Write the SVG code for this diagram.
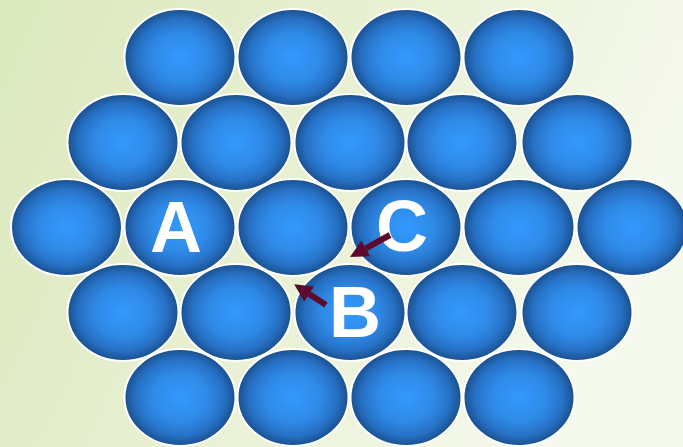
<svg xmlns="http://www.w3.org/2000/svg" width="683" height="447" viewBox="0 0 683 447">
<defs>
<linearGradient id="bg" x1="0" y1="0" x2="1" y2="0.3">
<stop offset="0" stop-color="#dbe8bc"/>
<stop offset="0.5" stop-color="#e8f0d2"/>
<stop offset="1" stop-color="#f6f9ee"/>
</linearGradient>
<radialGradient id="ball" cx="0.5" cy="0.5" r="0.5">
<stop offset="0" stop-color="#3399ff"/>
<stop offset="0.5" stop-color="#2f8ae6"/>
<stop offset="0.8" stop-color="#2670c4"/>
<stop offset="1" stop-color="#1a4f8c"/>
</radialGradient>
<marker id="head" markerUnits="userSpaceOnUse" markerWidth="19" markerHeight="20" refX="0" refY="9" orient="auto">
<path d="M0,0 L18,9 L0,18 z" fill="#5e0a2e"/>
</marker>
<style>
.b{fill:url(#ball);stroke:#ffffff;stroke-width:2}
.lbl{font-family:"Liberation Sans",Arial,sans-serif;font-weight:bold;font-size:72px;fill:#ffffff;text-anchor:middle}
.arr{stroke:#5e0a2e;stroke-width:6;fill:none;marker-end:url(#head)}
</style>
</defs>
<rect x="0" y="0" width="683" height="447" fill="url(#bg)"/>
<g id="row1">
<g id="s1-1"><ellipse class="b" cx="180" cy="57.5" rx="55.5" ry="48.5"/></g>
<g id="s1-2"><ellipse class="b" cx="293" cy="57.5" rx="55.5" ry="48.5"/></g>
<g id="s1-3"><ellipse class="b" cx="406" cy="57.5" rx="55.5" ry="48.5"/></g>
<g id="s1-4"><ellipse class="b" cx="519" cy="57.5" rx="55.5" ry="48.5"/></g>
</g>
<g id="row2">
<g id="s2-1"><ellipse class="b" cx="123" cy="142.5" rx="55.5" ry="48.5"/></g>
<g id="s2-2"><ellipse class="b" cx="236" cy="142.5" rx="55.5" ry="48.5"/></g>
<g id="s2-3"><ellipse class="b" cx="350" cy="142.5" rx="55.5" ry="48.5"/></g>
<g id="s2-4"><ellipse class="b" cx="462" cy="142.5" rx="55.5" ry="48.5"/></g>
<g id="s2-5"><ellipse class="b" cx="577" cy="142.5" rx="55.5" ry="48.5"/></g>
</g>
<g id="row3">
<g id="s3-1"><ellipse class="b" cx="66.5" cy="227.5" rx="55.5" ry="48.5"/></g>
<g id="s3-2"><ellipse class="b" cx="180" cy="227.5" rx="55.5" ry="48.5"/><text class="lbl" x="176" y="252">A</text></g>
<g id="s3-3"><ellipse class="b" cx="293" cy="227.5" rx="55.5" ry="48.5"/></g>
<g id="s3-4"><ellipse class="b" cx="406" cy="227.5" rx="55.5" ry="48.5"/><text class="lbl" x="402" y="251">C</text></g>
<g id="s3-5"><ellipse class="b" cx="519" cy="227.5" rx="55.5" ry="48.5"/></g>
<g id="s3-6"><ellipse class="b" cx="632" cy="227.5" rx="55.5" ry="48.5"/></g>
</g>
<g id="row4">
<g id="s4-1"><ellipse class="b" cx="123" cy="312.5" rx="55.5" ry="48.5"/></g>
<g id="s4-2"><ellipse class="b" cx="236" cy="312.5" rx="55.5" ry="48.5"/></g>
<g id="s4-3"><ellipse class="b" cx="350" cy="312.5" rx="55.5" ry="48.5"/><text class="lbl" x="355" y="337">B</text></g>
<g id="s4-4"><ellipse class="b" cx="462" cy="312.5" rx="55.5" ry="48.5"/></g>
<g id="s4-5"><ellipse class="b" cx="577" cy="312.5" rx="55.5" ry="48.5"/></g>
</g>
<g id="row5">
<g id="s5-1"><ellipse class="b" cx="180" cy="397.5" rx="55.5" ry="48.5"/></g>
<g id="s5-2"><ellipse class="b" cx="293" cy="397.5" rx="55.5" ry="48.5"/></g>
<g id="s5-3"><ellipse class="b" cx="406" cy="397.5" rx="55.5" ry="48.5"/></g>
<g id="s5-4"><ellipse class="b" cx="519" cy="397.5" rx="55.5" ry="48.5"/></g>
</g>
<g id="connectors">
<line class="arr" x1="390" y1="235" x2="365.8" y2="248.3"/>
<line class="arr" x1="326" y1="305" x2="309.2" y2="294"/>
</g>
</svg>
